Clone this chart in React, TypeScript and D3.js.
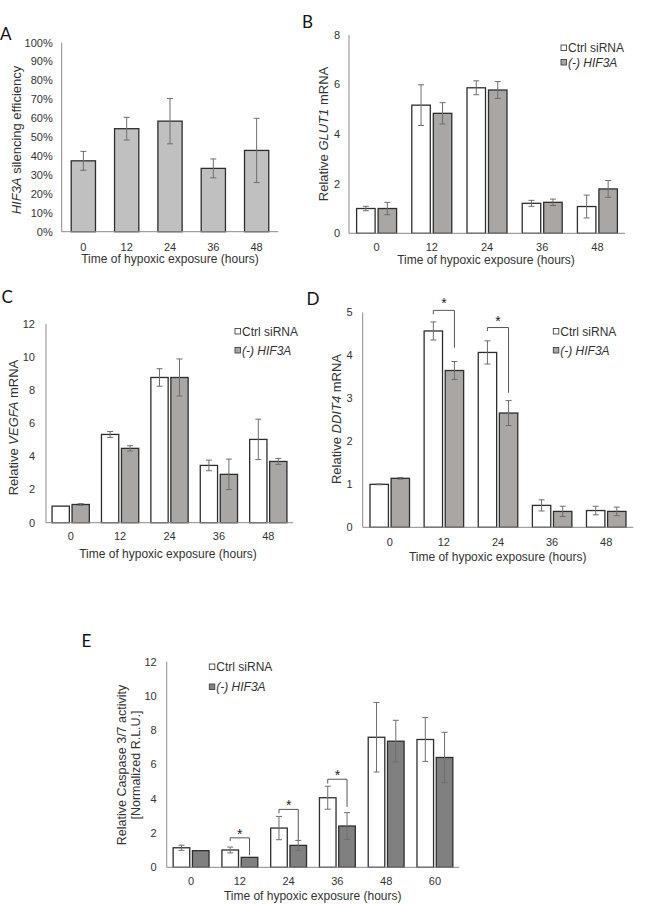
import React from "react";
import * as d3 from "d3";

const FONT = "'Liberation Sans', Arial, Helvetica, sans-serif";
const LABEL_FONT = "Lato, 'Open Sans', sans-serif";

// ---------- Data ----------
const hoursAD = ["0", "12", "24", "36", "48"];
const hoursE = ["0", "12", "24", "36", "48", "60"];

// Panel A: HIF3A silencing efficiency (%)
const aValues = [37.5, 54.5, 58.5, 33.5, 43];
const aErrors = [5, 6, 12, 5, 17];
const aTicks = [0, 10, 20, 30, 40, 50, 60, 70, 80, 90, 100];

// Panel B: GLUT1
const bCtrl = [1.0, 5.17, 5.87, 1.21, 1.08];
const bCtrlErr = [0.09, 0.82, 0.28, 0.12, 0.46];
const bHif = [1.0, 4.84, 5.78, 1.25, 1.79];
const bHifErr = [0.25, 0.43, 0.34, 0.13, 0.34];
const bTicks = [0, 2, 4, 6, 8];

// Panel C: VEGFA
const cCtrl = [1.0, 5.33, 8.77, 3.46, 5.03];
const cCtrlErr = [0, 0.18, 0.53, 0.32, 1.22];
const cHif = [1.1, 4.49, 8.77, 2.92, 3.7];
const cHifErr = [0.05, 0.16, 1.12, 0.92, 0.18];
const cTicks = [0, 2, 4, 6, 8, 10, 12];

// Panel D: DDIT4
const dCtrl = [1.0, 4.57, 4.07, 0.51, 0.39];
const dCtrlErr = [0.01, 0.21, 0.27, 0.13, 0.1];
const dHif = [1.14, 3.65, 2.66, 0.37, 0.37];
const dHifErr = [0.02, 0.21, 0.29, 0.12, 0.1];
const dTicks = [0, 1, 2, 3, 4, 5];
const dBrackets = [
  { cat: "12", top: 5.05, left: 4.96, right: 4.18 },
  { cat: "24", top: 4.65, left: 4.57, right: 3.13 },
];

// Panel E: Caspase 3/7 activity
const eCtrl = [1.14, 1.01, 2.29, 4.06, 7.59, 7.46];
const eCtrlErr = [0.15, 0.17, 0.68, 0.67, 2.03, 1.28];
const eHif = [0.97, 0.58, 1.28, 2.41, 7.36, 6.41];
const eHifErr = [0, 0, 0.29, 0.78, 1.22, 1.47];
const eTicks = [0, 2, 4, 6, 8, 10, 12];
const eBrackets = [
  { cat: "12", top: 1.72, left: 1.53, right: 0.7 },
  { cat: "24", top: 3.38, left: 3.15, right: 1.6 },
  { cat: "36", top: 5.14, left: 4.89, right: 3.53 },
];

const legendLabels = ["Ctrl siRNA", "(-) HIF3A"];

// ---------- Styles ----------
const AXIS = "#8a8a8a";
const BAR_STROKE = "#2e2e2e";
const ERR = "#6e6e6e";
const TEXT = "#333";
const CTRL_FILL = "#ffffff";
const HIF_FILL = "#a9a6a4";
const HIF_FILL_E = "#808080";
const A_FILL = "#c0c0c0";

type Series = { values: number[]; errors: number[]; fill: string };
type Bracket = { cat: string; top: number; left: number; right: number };

function Panel(props: {
  cats: string[];
  x0: number;
  x1: number;
  y0: number;
  yTop: number;
  yMax: number;
  ticks: number[];
  tickFmt: (v: number) => string;
  tickGap: number;
  series: Series[];
  barFrac: number;
  gap: number;
  xLabelOffset: number;
  brackets?: Bracket[];
  starOffset?: number;
}) {
  const { cats, x0, x1, y0, yTop, yMax, ticks, tickFmt, tickGap, series, barFrac, gap, xLabelOffset, brackets, starOffset = 0 } = props;
  const xs = d3.scaleBand<string>().domain(cats).range([x0, x1]).paddingInner(0).paddingOuter(0);
  const y = d3.scaleLinear().domain([0, yMax]).range([y0, yTop]);
  const step = xs.step();
  const w = step * barFrac;
  const n = series.length;
  const center = (c: string) => (xs(c) as number) + xs.bandwidth() / 2;
  const barCenter = (c: string, si: number) => {
    if (n === 1) return center(c);
    const total = n * w + (n - 1) * gap;
    return center(c) - total / 2 + si * (w + gap) + w / 2;
  };
  const cap = 3;
  return (
    <g>
      {ticks.map((t) => (
        <text key={"t" + t} x={x0 - tickGap} y={y(t)} dy="0.35em" textAnchor="end" fontSize={11} fill={TEXT} fontFamily={FONT}>
          {tickFmt(t)}
        </text>
      ))}
      {series.map((s, si) =>
        cats.map((c, i) => {
          const cx = barCenter(c, si);
          return (
            <rect key={`b${si}-${i}`} x={cx - w / 2} y={y(s.values[i])} width={w} height={y0 - y(s.values[i])} fill={s.fill} stroke={BAR_STROKE} strokeWidth={1.3} />
          );
        })
      )}
      {series.map((s, si) =>
        cats.map((c, i) => {
          const e = s.errors[i];
          if (!e) return null;
          const cx = barCenter(c, si);
          const hi = y(s.values[i] + e);
          const lo = y(s.values[i] - e);
          return (
            <g key={`e${si}-${i}`} stroke={ERR} strokeWidth={1}>
              <line x1={cx} x2={cx} y1={hi} y2={lo} />
              <line x1={cx - cap} x2={cx + cap} y1={hi} y2={hi} />
              <line x1={cx - cap} x2={cx + cap} y1={lo} y2={lo} />
            </g>
          );
        })
      )}
      <line x1={x0} x2={x0} y1={yTop} y2={y0} stroke={AXIS} strokeWidth={1} />
      <line x1={x0} x2={x1} y1={y0} y2={y0} stroke={AXIS} strokeWidth={1} />
      {cats.map((c) => (
        <text key={"x" + c} x={center(c)} y={y0 + xLabelOffset} dy="0.35em" textAnchor="middle" fontSize={11} fill={TEXT} fontFamily={FONT}>
          {c}
        </text>
      ))}
      {(brackets || []).map((b) => {
        const lx = barCenter(b.cat, 0);
        const rx = barCenter(b.cat, 1);
        const ty = y(b.top);
        return (
          <g key={"br" + b.cat}>
            <path d={`M${lx},${y(b.left)}V${ty}H${rx}V${y(b.right)}`} fill="none" stroke="#555" strokeWidth={1} />
            <text x={(lx + rx) / 2} y={ty + starOffset} textAnchor="middle" fontSize={14} fill="#222" fontFamily={FONT}>
              *
            </text>
          </g>
        );
      })}
    </g>
  );
}

function Legend({ x, y, hifFill, spacing }: { x: number; y: number; hifFill: string; spacing: number }) {
  const fills = [CTRL_FILL, hifFill];
  return (
    <g>
      {legendLabels.map((l, i) => (
        <g key={l}>
          <rect x={x} y={y + i * spacing - 7} width={5.5} height={5.5} fill={fills[i]} stroke="#444" strokeWidth={0.9} />
          <text x={x + 7} y={y + i * spacing} fontSize={12} fill={TEXT} fontFamily={FONT} fontStyle={i === 1 ? "italic" : "normal"}>
            {l}
          </text>
        </g>
      ))}
    </g>
  );
}

function YTitle({ x, y, pre, ital, post }: { x: number; y: number; pre: string; ital: string; post: string }) {
  return (
    <text transform={`translate(${x},${y}) rotate(-90)`} dy="0.35em" textAnchor="middle" fontSize={13} fill={TEXT} fontFamily={FONT}>
      {pre}
      <tspan fontStyle="italic">{ital}</tspan>
      {post}
    </text>
  );
}

function XTitle({ x, y }: { x: number; y: number }) {
  return (
    <text x={x} y={y} dy="0.35em" textAnchor="middle" fontSize={12} fill={TEXT} fontFamily={FONT}>
      Time of hypoxic exposure (hours)
    </text>
  );
}

function PanelLabel({ x, y, t }: { x: number; y: number; t: string }) {
  return (
    <text x={x} y={y} fontSize={17} fill="#111" fontFamily={LABEL_FONT}>
      {t}
    </text>
  );
}

export default function App() {
  const pct = (v: number) => `${v}%`;
  const num = (v: number) => `${v}`;
  return (
    <svg width={652} height={905} style={{ position: "absolute", left: 0, top: 0, background: "#fff" }}>
      <rect width={652} height={905} fill="#fff" />
      {/* A */}
      <PanelLabel x={0} y={40} t="A" />
      <Panel cats={hoursAD} x0={61.7} x1={278.3} y0={231.7} yTop={42.7} yMax={100} ticks={aTicks} tickFmt={pct} tickGap={9}
        series={[{ values: aValues, errors: aErrors, fill: A_FILL }]} barFrac={0.56} gap={0} xLabelOffset={15} />
      <YTitle x={16.7} y={140} pre="" ital="HIF3A" post=" silencing efficiency" />
      <XTitle x={170} y={258.5} />

      {/* B */}
      <PanelLabel x={302} y={28} t="B" />
      <Panel cats={hoursAD} x0={349} x1={625} y0={233.3} yTop={35} yMax={8} ticks={bTicks} tickFmt={num} tickGap={9}
        series={[{ values: bCtrl, errors: bCtrlErr, fill: CTRL_FILL }, { values: bHif, errors: bHifErr, fill: HIF_FILL }]}
        barFrac={0.335} gap={3} xLabelOffset={13.5} />
      <Legend x={561} y={52} hifFill={HIF_FILL} spacing={14.5} />
      <YTitle x={323.3} y={134} pre="Relative " ital="GLUT1" post=" mRNA" />
      <XTitle x={486} y={260} />

      {/* C */}
      <PanelLabel x={1.5} y={303} t="C" />
      <Panel cats={hoursAD} x0={46} x1={293} y0={522.7} yTop={324} yMax={12} ticks={cTicks} tickFmt={num} tickGap={11}
        series={[{ values: cCtrl, errors: cCtrlErr, fill: CTRL_FILL }, { values: cHif, errors: cHifErr, fill: HIF_FILL }]}
        barFrac={0.35} gap={2.7} xLabelOffset={13.8} />
      <Legend x={235} y={335.5} hifFill={HIF_FILL} spacing={19} />
      <YTitle x={13.3} y={427.5} pre="Relative " ital="VEGFA" post=" mRNA" />
      <XTitle x={168} y={553.5} />

      {/* D */}
      <PanelLabel x={306.5} y={305} t="D" />
      <Panel cats={hoursAD} x0={362.7} x1={633.3} y0={527.3} yTop={312.5} yMax={5} ticks={dTicks} tickFmt={num} tickGap={10}
        series={[{ values: dCtrl, errors: dCtrlErr, fill: CTRL_FILL }, { values: dHif, errors: dHifErr, fill: HIF_FILL }]}
        barFrac={0.34} gap={2.7} xLabelOffset={14.4} brackets={dBrackets} starOffset={-2} />
      <Legend x={553.3} y={335.5} hifFill={HIF_FILL} spacing={19} />
      <YTitle x={336} y={419} pre="Relative " ital="DDIT4" post=" mRNA" />
      <XTitle x={497.7} y={556.7} />

      {/* E */}
      <PanelLabel x={81.5} y={646.7} t="E" />
      <Panel cats={hoursE} x0={166.7} x1={459.3} y0={867.3} yTop={661.7} yMax={12} ticks={eTicks} tickFmt={num} tickGap={10}
        series={[{ values: eCtrl, errors: eCtrlErr, fill: CTRL_FILL }, { values: eHif, errors: eHifErr, fill: HIF_FILL_E }]}
        barFrac={0.34} gap={2.7} xLabelOffset={13.7} brackets={eBrackets} starOffset={1} />
      <Legend x={209.3} y={671} hifFill={HIF_FILL_E} spacing={20} />
      <text transform="translate(121.7,765) rotate(-90)" dy="0.35em" textAnchor="middle" fontSize={12.5} fill={TEXT} fontFamily={FONT}>
        Relative Caspase 3/7 activity
      </text>
      <text transform="translate(135.5,765) rotate(-90)" dy="0.35em" textAnchor="middle" fontSize={12.5} fill={TEXT} fontFamily={FONT}>
        [Normalized R.L.U.]
      </text>
      <XTitle x={312.7} y={896} />
    </svg>
  );
}
